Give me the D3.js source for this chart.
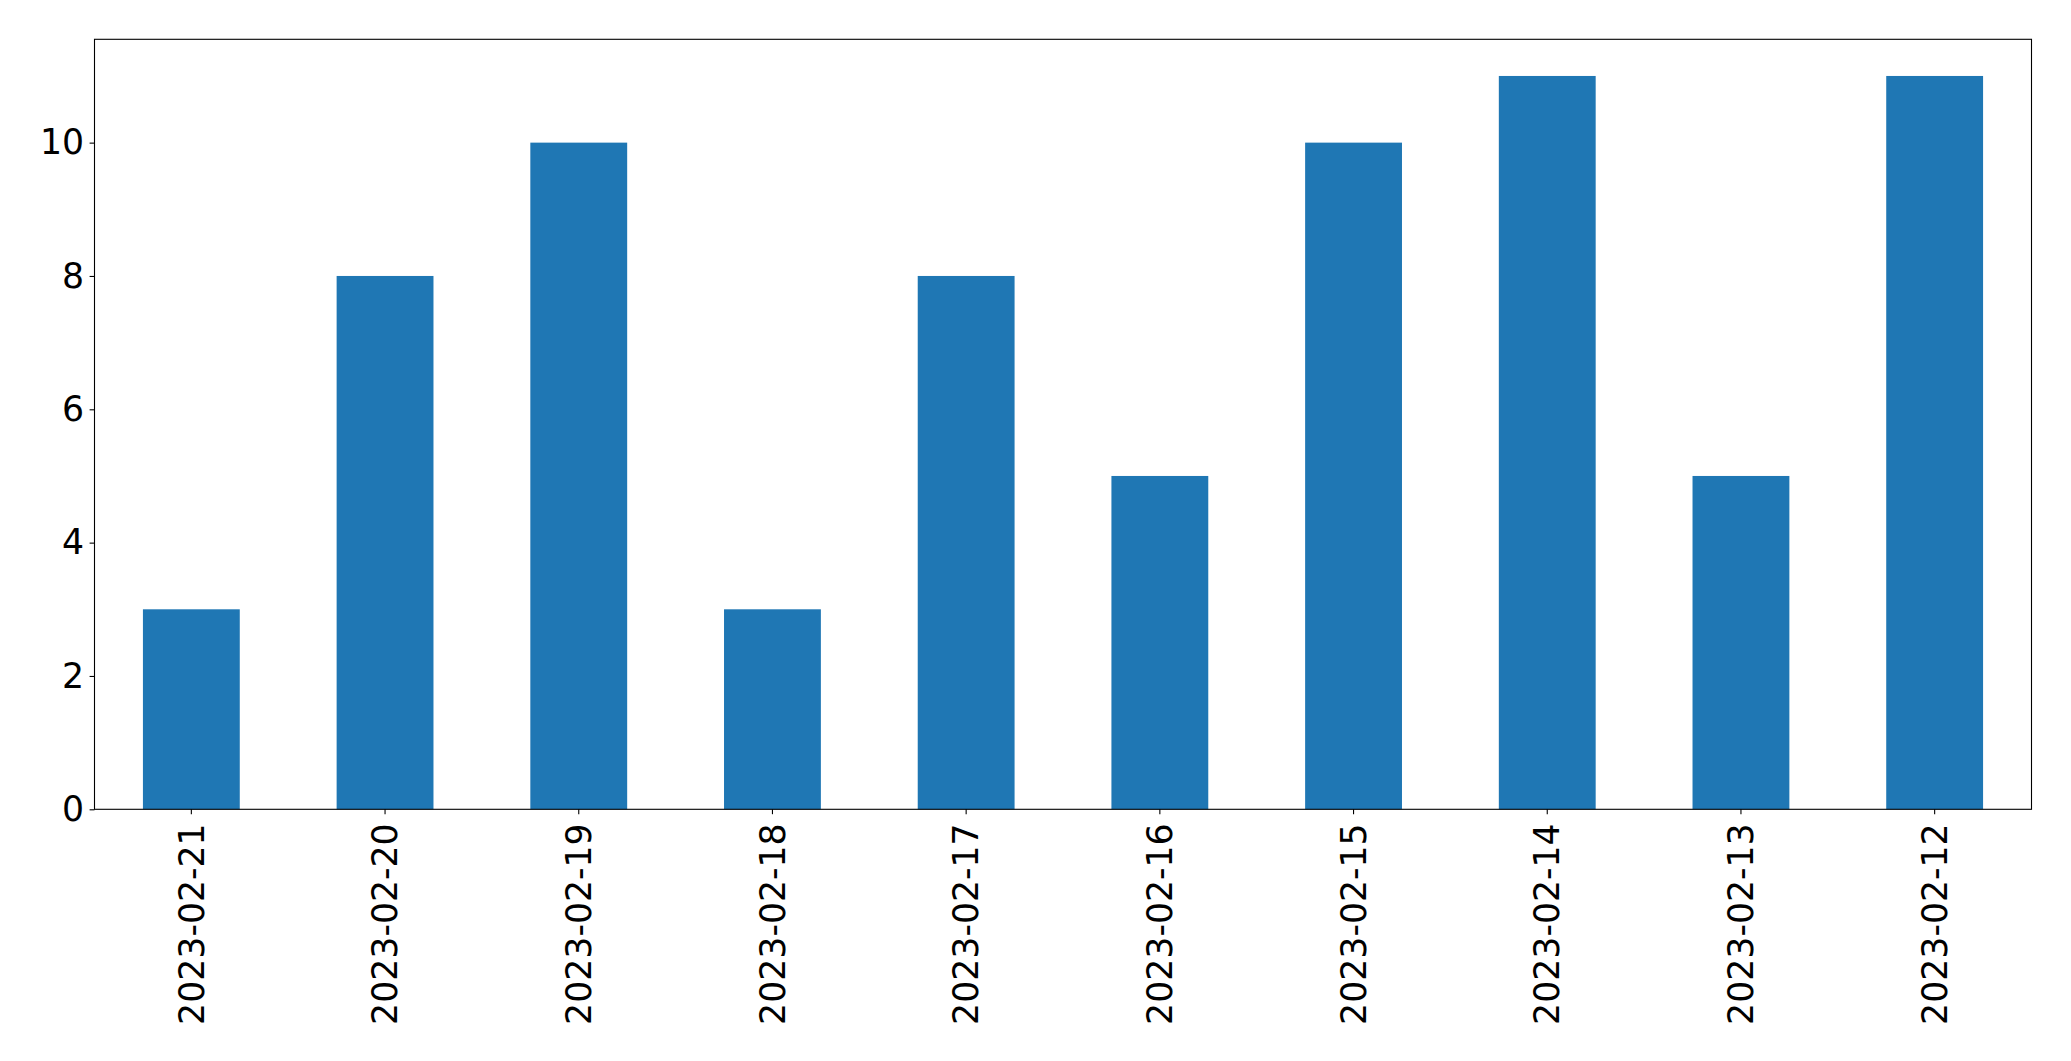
<!DOCTYPE html>
<html lang="en">
	<head>
		<meta charset="utf-8">
		<title>bar</title>
		<script type="text/javascript" src="https://d3js.org/d3.v7.min.js"></script>
		<style type="text/css">
			body { margin: 0; background: white; }
			.Axis path, .Axis line {
				stroke: black;
				stroke-width: 1.1px;
			}
			.Axis text {
				font-family: "DejaVu Sans", sans-serif;
				font-size: 34.7px;
				fill: black;
			}
		</style>
	</head>
	<body>
		<div class="chart"></div>
		<script type="text/javascript">
			const w = 2071,
				  h = 1061;

			// data
			const days = ["2023-02-21", "2023-02-20", "2023-02-19", "2023-02-18", "2023-02-17",
						  "2023-02-16", "2023-02-15", "2023-02-14", "2023-02-13", "2023-02-12"];
			const counts = [3, 8, 10, 3, 8, 5, 10, 11, 5, 11];
			const yTicks = [0, 2, 4, 6, 8, 10];

			const plotLeft = 94.5, plotRight = 2031.5, plotTop = 39.3, plotBottom = 809.3;

			const svg = d3.select(".chart")
						.append("svg")
						.attr("width", w)
						.attr("height", h);

			// pandas style: 10 slots, bar width half a slot
			const xScale = d3.scaleBand()
							.domain(days)
							.range([plotLeft, plotRight])
							.paddingInner(0.5)
							.paddingOuter(0.25);

			const yScale = d3.scaleLinear()
							.domain([0, d3.max(counts) * 1.05])
							.range([plotBottom, plotTop]);

			svg.append("g")
				.selectAll("rect")
				.data(counts)
				.enter()
				.append("rect")
				.attr("x", (d, i) => xScale(days[i]))
				.attr("y", d => yScale(d))
				.attr("width", xScale.bandwidth())
				.attr("height", d => plotBottom - yScale(d))
				.attr("fill", "#1f77b4");

			// frame
			svg.append("rect")
				.attr("x", plotLeft)
				.attr("y", plotTop)
				.attr("width", plotRight - plotLeft)
				.attr("height", plotBottom - plotTop)
				.attr("fill", "none")
				.attr("stroke", "black")
				.attr("stroke-width", 1.1);

			const xAxis = d3.axisBottom(xScale)
							.tickSize(4.9)
							.tickPadding(4.9)
							.tickSizeOuter(0);

			const yAxis = d3.axisLeft(yScale)
							.tickValues(yTicks)
							.tickSize(4.9)
							.tickPadding(5.5)
							.tickSizeOuter(0);

			const gx = svg.append("g")
				.attr("class", "Axis x")
				.attr("transform", "translate(0," + plotBottom + ")")
				.call(xAxis);
			gx.select(".domain").remove();
			gx.selectAll("text")
				.attr("transform", "rotate(-90)")
				.attr("text-anchor", "end")
				.attr("x", -14)
				.attr("y", 0)
				.attr("dy", "0.35em");

			const gy = svg.append("g")
				.attr("class", "Axis y")
				.attr("transform", "translate(" + plotLeft + ",0)")
				.call(yAxis);
			gy.select(".domain").remove();
		</script>
	</body>
</html>
